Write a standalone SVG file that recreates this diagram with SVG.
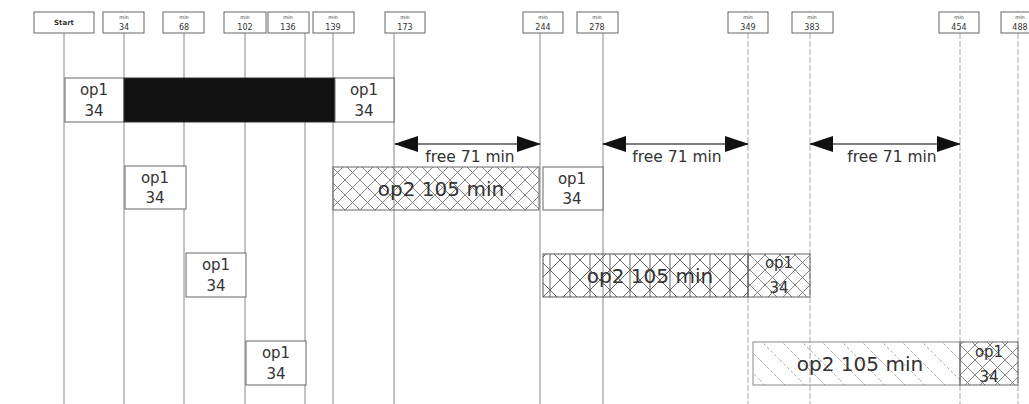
<svg xmlns="http://www.w3.org/2000/svg" width="1029" height="404" viewBox="0 0 1029 404">
<style>
.hb{fill:#fff;stroke:#666;stroke-width:1}
.bx{fill:#fff;stroke:#666;stroke-width:1}
.t{font-family:"DejaVu Sans",Verdana,sans-serif;fill:#333;text-anchor:middle}
.tm{font-size:5px}
.tn{font-size:8px}
.ts{font-size:7px;font-weight:bold}
.t1{font-size:15px}
.t2{font-size:20px}
.tf{font-size:15.5px}
.vl{stroke:#888;stroke-width:1}
.vd{stroke:#aaa;stroke-width:1;stroke-dasharray:6 2}
.ar{stroke:#555;stroke-width:1.5;marker-start:url(#ah);marker-end:url(#ah)}
</style>
<defs>
<marker id="ah" viewBox="0 0 24 16" refX="23" refY="8" markerWidth="24" markerHeight="16" markerUnits="userSpaceOnUse" orient="auto-start-reverse">
<path d="M0,0 L24,8 L0,16 z" fill="#111"/>
</marker>
<pattern id="px" width="15" height="15" patternUnits="userSpaceOnUse">
<path d="M0,0 L15,15 M15,0 L0,15" stroke="#666" stroke-width="0.8" fill="none"/>
</pattern>
<pattern id="pxv" width="20" height="20" patternUnits="userSpaceOnUse">
<path d="M0,0 L20,20 M20,0 L0,20 M10,0 V20" stroke="#555" stroke-width="0.9" fill="none"/>
</pattern>
<pattern id="pd" width="20" height="20" patternUnits="userSpaceOnUse">
<path d="M0,0 L20,20" stroke="#999" stroke-width="0.8" stroke-dasharray="3 2" fill="none"/>
</pattern>
</defs>
<rect width="1029" height="404" fill="#fff"/>

<g id="connectors">
<line class="vl" x1="64" y1="33" x2="64" y2="404"/>
<line class="vl" x1="124" y1="33" x2="124" y2="404"/>
<line class="vl" x1="184" y1="33" x2="184" y2="404"/>
<line class="vl" x1="245" y1="33" x2="245" y2="404"/>
<line class="vl" x1="305" y1="33" x2="305" y2="404"/>
<line class="vl" x1="333" y1="33" x2="333" y2="404"/>
<line class="vl" x1="394" y1="33" x2="394" y2="404"/>
<line class="vl" x1="540" y1="33" x2="540" y2="404"/>
<line class="vl" x1="603" y1="33" x2="603" y2="404"/>
<line class="vd" x1="748" y1="33" x2="748" y2="404"/>
<line class="vd" x1="810" y1="33" x2="810" y2="404"/>
<line class="vd" x1="960" y1="33" x2="960" y2="404"/>
<line class="vd" x1="1018" y1="33" x2="1018" y2="404"/>
<line class="ar" x1="395" y1="144" x2="540" y2="144"/>
<line class="ar" x1="603" y1="144" x2="748" y2="144"/>
<line class="ar" x1="810" y1="144" x2="960" y2="144"/>
<text class="t tf" x="470" y="162">free 71 min</text>
<text class="t tf" x="677" y="162">free 71 min</text>
<text class="t tf" x="892" y="162">free 71 min</text>
</g>

<g id="h-start"><rect class="hb" x="34" y="12" width="60" height="21"/><text class="t ts" x="64" y="25">Start</text></g>
<g id="h-34"><rect class="hb" x="103" y="12" width="41" height="21"/><text class="t tm" x="124" y="19">min</text><text class="t tn" x="124" y="30">34</text></g>
<g id="h-68"><rect class="hb" x="163" y="12" width="41" height="21"/><text class="t tm" x="184" y="19">min</text><text class="t tn" x="184" y="30">68</text></g>
<g id="h-102"><rect class="hb" x="224" y="12" width="42" height="21"/><text class="t tm" x="245" y="19">min</text><text class="t tn" x="245" y="30">102</text></g>
<g id="h-136"><rect class="hb" x="268" y="12" width="41" height="21"/><text class="t tm" x="288" y="19">min</text><text class="t tn" x="288" y="30">136</text></g>
<g id="h-139"><rect class="hb" x="313" y="12" width="41" height="21"/><text class="t tm" x="333" y="19">min</text><text class="t tn" x="333" y="30">139</text></g>
<g id="h-173"><rect class="hb" x="385" y="12" width="40" height="21"/><text class="t tm" x="405" y="19">min</text><text class="t tn" x="405" y="30">173</text></g>
<g id="h-244"><rect class="hb" x="523" y="12" width="40" height="21"/><text class="t tm" x="543" y="19">min</text><text class="t tn" x="543" y="30">244</text></g>
<g id="h-278"><rect class="hb" x="577" y="12" width="41" height="21"/><text class="t tm" x="597" y="19">min</text><text class="t tn" x="597" y="30">278</text></g>
<g id="h-349"><rect class="hb" x="728" y="12" width="40" height="21"/><text class="t tm" x="748" y="19">min</text><text class="t tn" x="748" y="30">349</text></g>
<g id="h-383"><rect class="hb" x="792" y="12" width="41" height="21"/><text class="t tm" x="812" y="19">min</text><text class="t tn" x="812" y="30">383</text></g>
<g id="h-454"><rect class="hb" x="939" y="12" width="40" height="21"/><text class="t tm" x="959" y="19">min</text><text class="t tn" x="959" y="30">454</text></g>
<g id="h-488"><rect class="hb" x="1001" y="12" width="40" height="21"/><text class="t tm" x="1020" y="19">min</text><text class="t tn" x="1020" y="30">488</text></g>

<g id="r1-op1a"><rect class="bx" x="65" y="78" width="59" height="44"/><text class="t t1" x="94" y="95">op1</text><text class="t t1" x="94" y="116">34</text></g>
<g id="r1-block"><rect x="124" y="78" width="211" height="44" fill="#111" stroke="#333"/></g>
<g id="r1-op1b"><rect class="bx" x="335" y="78" width="59" height="44"/><text class="t t1" x="364" y="95">op1</text><text class="t t1" x="364" y="116">34</text></g>

<g id="r2-op1"><rect class="bx" x="125" y="166" width="61" height="43"/><text class="t t1" x="155" y="183">op1</text><text class="t t1" x="155" y="203">34</text></g>
<g id="r2-op2"><rect x="333" y="167" width="206" height="43" fill="url(#px)" stroke="#666"/><text class="t t2" x="441" y="196">op2 105 min</text></g>
<g id="r2-op1b"><rect class="bx" x="543" y="167" width="60" height="43"/><text class="t t1" x="572" y="184">op1</text><text class="t t1" x="572" y="204">34</text></g>

<g id="r3-op1"><rect class="bx" x="186" y="253" width="60" height="44"/><text class="t t1" x="216" y="270">op1</text><text class="t t1" x="216" y="291">34</text></g>
<g id="r3-op2"><rect x="543" y="254" width="205" height="43" fill="url(#pxv)" stroke="#555"/><text class="t t2" x="650" y="283">op2 105 min</text></g>
<g id="r3-op1b"><rect x="748" y="254" width="62" height="43" fill="url(#px)" stroke="#666"/><text class="t t1" x="779" y="268">op1</text><text class="t t1" x="779" y="293">34</text></g>

<g id="r4-op1"><rect class="bx" x="246" y="341" width="60" height="44"/><text class="t t1" x="276" y="358">op1</text><text class="t t1" x="276" y="379">34</text></g>
<g id="r4-op2"><rect x="753" y="342" width="207" height="43" fill="url(#pd)" stroke="#888"/><text class="t t2" x="860" y="371">op2 105 min</text></g>
<g id="r4-op1b"><rect x="960" y="342" width="58" height="43" fill="url(#px)" stroke="#666"/><text class="t t1" x="989" y="357">op1</text><text class="t t1" x="989" y="382">34</text></g>
</svg>
